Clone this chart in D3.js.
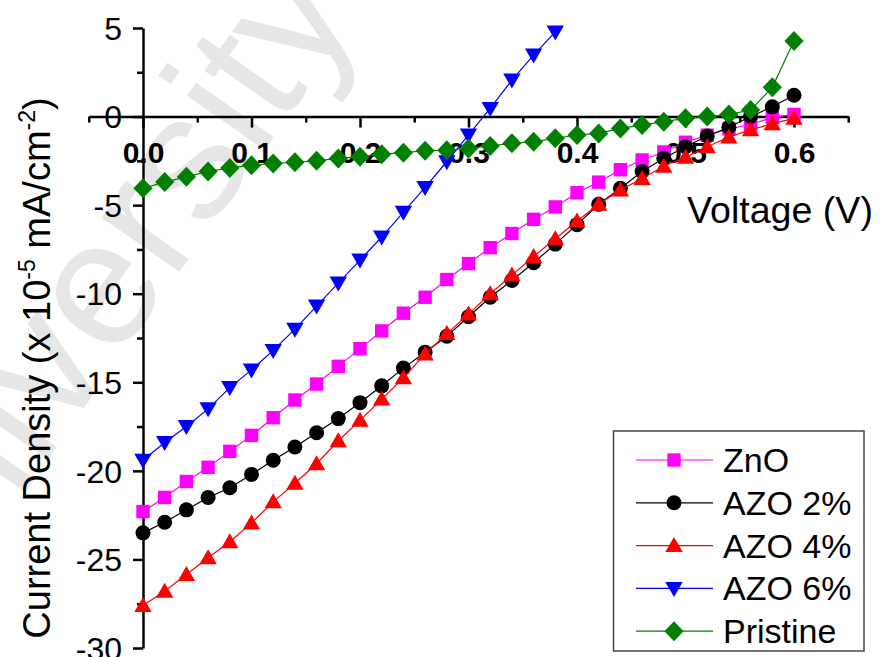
<!DOCTYPE html>
<html><head><meta charset="utf-8">
<script src="https://cdn.jsdelivr.net/npm/d3@7"></script>
<style>
html,body{margin:0;padding:0;background:#fff;}
svg{display:block;font-family:Arial,"Liberation Sans",sans-serif;}
</style>
</head><body>
<svg id="chart" width="880" height="657"></svg>
<script>
// ---------- data ----------
const voltage = [0.00,0.02,0.04,0.06,0.08,0.10,0.12,0.14,0.16,0.18,0.20,0.22,0.24,0.26,0.28,0.30,
                 0.32,0.34,0.36,0.38,0.40,0.42,0.44,0.46,0.48,0.50,0.52,0.54,0.56,0.58,0.60];
const voltageAZO6 = [0.00,0.02,0.04,0.06,0.08,0.10,0.12,0.14,0.16,0.18,0.20,0.22,0.24,0.26,0.28,0.30,
                     0.32,0.34,0.36,0.38];
const znoValues = [-22.3,-21.5,-20.6,-19.8,-18.9,-18.0,-17.0,-16.0,-15.1,-14.1,-13.1,-12.1,-11.1,-10.2,-9.2,-8.3,
                   -7.4,-6.6,-5.8,-5.1,-4.3,-3.7,-3.0,-2.45,-2.0,-1.45,-1.05,-0.7,-0.45,-0.05,0.12];
const azo2Values = [-23.5,-22.9,-22.2,-21.5,-20.95,-20.2,-19.4,-18.65,-17.85,-17.05,-16.15,-15.2,-14.2,-13.3,-12.4,-11.3,
                    -10.2,-9.25,-8.25,-7.2,-6.1,-4.95,-4.05,-3.1,-2.35,-1.7,-1.1,-0.6,0.0,0.55,1.2];
const azo4Values = [-27.6,-26.8,-25.85,-24.9,-24.0,-22.95,-21.75,-20.7,-19.6,-18.3,-17.15,-15.95,-14.75,-13.4,-12.25,-11.15,
                    -10.0,-8.95,-7.9,-6.9,-5.9,-4.95,-4.15,-3.5,-2.8,-2.3,-1.7,-1.15,-0.75,-0.4,-0.1];
const azo6Values = [-19.4,-18.4,-17.5,-16.5,-15.3,-14.3,-13.2,-12.0,-10.7,-9.4,-8.1,-6.8,-5.4,-4.0,-2.55,-1.04,
                    0.46,2.06,3.47,4.78];
const pristineValues = [-4.05,-3.7,-3.4,-3.1,-2.9,-2.75,-2.65,-2.58,-2.5,-2.36,-2.27,-2.12,-2.04,-1.93,-1.9,-1.8,
                        -1.66,-1.5,-1.42,-1.23,-1.04,-0.95,-0.67,-0.48,-0.29,-0.1,0.0,0.12,0.37,1.65,4.26];

const seriesNames = ["ZnO","AZO 2%","AZO 4%","AZO 6%","Pristine"];
const seriesColors = ["#ff00ff","#000000","#ff0000","#0000ff","#008000"];
const seriesMarkers = ["square","circle","triangleUp","triangleDown","diamond"];

const xTickValues = [0.0,0.1,0.2,0.3,0.4,0.5,0.6];
const xTickLabels = ["0.0","0.1","0.2","0.3","0.4","0.5","0.6"];
const xMinorTicks = [-0.05,0.05,0.15,0.25,0.35,0.45,0.55,0.65];
const yTickValues = [5,0,-5,-10,-15,-20,-25,-30];
const yTickLabels = ["5","0","-5","-10","-15","-20","-25","-30"];
const yMinorTicks = [2.5,-2.5,-7.5,-12.5,-17.5,-22.5,-27.5];

// ---------- setup ----------
const svg = d3.select("#chart");
const x = d3.scaleLinear().domain([-0.05, 0.65]).range([88.75, 848.25]);
const y = d3.scaleLinear().domain([-30, 5]).range([648, 28]);

// watermark
svg.append("text")
  .attr("transform", "translate(135,335) rotate(-55)")
  .attr("text-anchor", "middle")
  .attr("font-size", 179)
  .attr("fill", "#e6e6e6")
  .text("University");

// ---------- axes ----------
const xAxisG = svg.append("g").attr("transform", `translate(0,${y(0)})`);
xAxisG.call(d3.axisBottom(x).tickValues(xMinorTicks).tickSize(6).tickSizeOuter(0).tickFormat(""));
const xMajor = svg.append("g").attr("transform", `translate(0,${y(0)})`)
  .call(d3.axisBottom(x).tickValues(xTickValues).tickSize(11).tickSizeOuter(0)
        .tickFormat((d,i) => xTickLabels[i]));
xMajor.select(".domain").remove();
xMajor.selectAll("text").attr("y", 46.5).attr("dy", null)
  .attr("font-size", 30).attr("font-weight", "bold").attr("fill", "#000")
  .attr("font-family", "Arial, 'Liberation Sans', sans-serif");

const yAxisG = svg.append("g").attr("transform", `translate(${x(0)},0)`);
yAxisG.call(d3.axisLeft(y).tickValues(yMinorTicks).tickSize(6).tickSizeOuter(0).tickFormat(""));
const yMajor = svg.append("g").attr("transform", `translate(${x(0)},0)`)
  .call(d3.axisLeft(y).tickValues(yTickValues).tickSize(10).tickSizeOuter(0)
        .tickFormat((d,i) => yTickLabels[i]));
yMajor.select(".domain").remove();
yMajor.selectAll("text").attr("x", -21).attr("dy", "0.35em")
  .attr("font-size", 32).attr("fill", "#000")
  .attr("font-family", "Arial, 'Liberation Sans', sans-serif");

svg.selectAll(".domain, .tick line").attr("stroke", "#000").attr("stroke-width", 2.5);

// axis titles
svg.append("text")
  .attr("x", 687).attr("y", 223)
  .attr("font-size", 37.6).attr("fill", "#000")
  .text("Voltage (V)");

const yTitle = svg.append("text")
  .attr("transform", "translate(50,368) rotate(-90)")
  .attr("text-anchor", "middle")
  .attr("font-size", 38).attr("fill", "#000");
yTitle.append("tspan").text("Current Density (x 10");
yTitle.append("tspan").attr("dy", -15).attr("font-size", 23).text("-5");
yTitle.append("tspan").attr("dy", 15).text(" mA/cm");
yTitle.append("tspan").attr("dy", -15).attr("font-size", 23).text("-2");
yTitle.append("tspan").attr("dy", 15).text(")");

// ---------- markers ----------
function markerPath(type) {
  switch (type) {
    case "square": return "M-6.7,-6.7H6.7V6.7H-6.7Z";
    case "circle": return d3.symbol().type(d3.symbolCircle).size(Math.PI * 7.5 * 7.5)();
    case "triangleUp": return "M0,-8.5L8.7,6.5L-8.7,6.5Z";
    case "triangleDown": return "M0,8.5L8.7,-6.5L-8.7,-6.5Z";
    case "diamond": return "M0,-10L9.6,0L0,10L-9.6,0Z";
  }
}

// ---------- series ----------
const seriesData = [
  {xs: voltage, ys: znoValues},
  {xs: voltage, ys: azo2Values},
  {xs: voltage, ys: azo4Values},
  {xs: voltageAZO6, ys: azo6Values},
  {xs: voltage, ys: pristineValues}
];
const line = d3.line().x(d => x(d[0])).y(d => y(d[1]));

seriesData.forEach((s, i) => {
  const pts = s.xs.map((v, k) => [v, s.ys[k]]);
  const g = svg.append("g");
  g.append("path").datum(pts)
    .attr("d", line).attr("fill", "none")
    .attr("stroke", seriesColors[i]).attr("stroke-width", 1.2);
  g.selectAll("path.m").data(pts).enter().append("path")
    .attr("class", "m")
    .attr("transform", d => `translate(${x(d[0])},${y(d[1])})`)
    .attr("d", markerPath(seriesMarkers[i]))
    .attr("fill", seriesColors[i]);
});

// ---------- legend ----------
const legend = svg.append("g");
legend.append("rect")
  .attr("x", 613.5).attr("y", 431).attr("width", 250.5).attr("height", 220)
  .attr("fill", "#fff").attr("stroke", "#444").attr("stroke-width", 1.5);
seriesNames.forEach((name, i) => {
  const cy = 460 + i * 42.8;
  legend.append("line").attr("x1", 636).attr("x2", 713).attr("y1", cy).attr("y2", cy)
    .attr("stroke", seriesColors[i]).attr("stroke-width", 1.2);
  legend.append("path").attr("transform", `translate(674,${cy})`)
    .attr("d", markerPath(seriesMarkers[i])).attr("fill", seriesColors[i]);
  legend.append("text").attr("x", 723).attr("y", cy + 12)
    .attr("font-size", 34).attr("fill", "#000").text(name);
});
</script>
</body></html>
